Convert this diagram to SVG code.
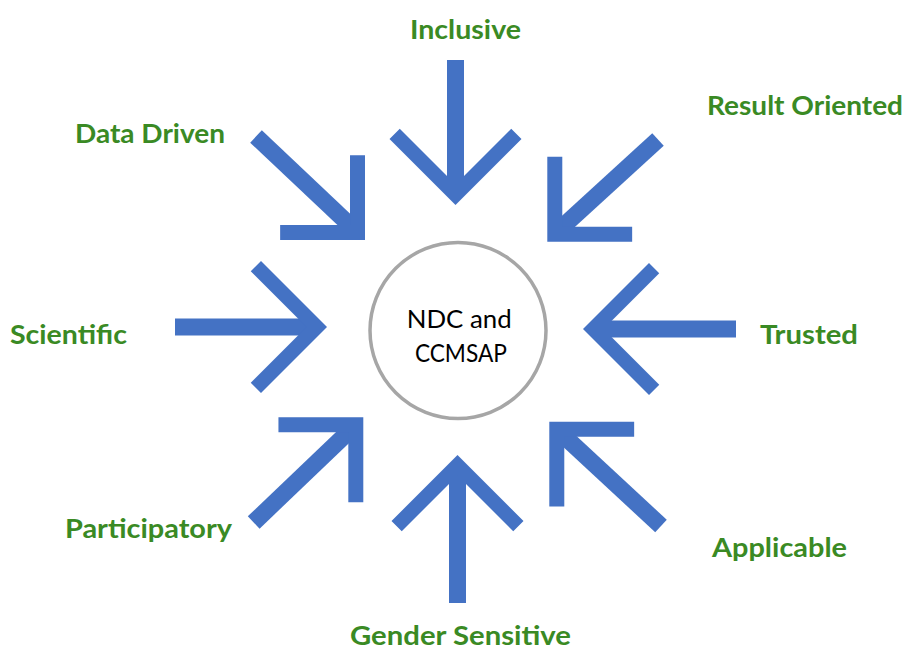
<svg xmlns="http://www.w3.org/2000/svg" width="911" height="650" viewBox="0 0 911 650">
<style>
.shaft{stroke:#4472C4;stroke-width:17;stroke-linecap:butt;fill:none}
.head{fill:#4472C4}
.lbl{font-family:Lato,"Open Sans","Liberation Sans",sans-serif;font-weight:bold;font-size:27px;fill:#3A8A24}
.ctr{font-family:Lato,"Open Sans","Liberation Sans",sans-serif;font-size:25px;fill:#000;text-anchor:middle}
</style>
<defs>
<polygon id="head" points="0,0 -66,-66 -76.25,-55.75 -20.5,0 -76.25,55.75 -66,66"/>
<polygon id="head-d" points="0,0 -60,-60 -70.6,-49.4 -21.2,0 -70.6,49.4 -60,60"/>
</defs>
<rect width="911" height="650" fill="#fff"/>
<g id="connectors">
  <g id="arrow-inclusive"><line class="shaft" x1="455.5" y1="60" x2="455.5" y2="190"/><use href="#head" class="head" transform="translate(455.5,205) rotate(90)"/></g>
  <g id="arrow-gender"><line class="shaft" x1="457.5" y1="603" x2="457.5" y2="470"/><use href="#head" class="head" transform="translate(457.5,455) rotate(-90)"/></g>
  <g id="arrow-scientific"><line class="shaft" x1="175" y1="327" x2="312" y2="327"/><use href="#head" class="head" transform="translate(327,327)"/></g>
  <g id="arrow-trusted"><line class="shaft" x1="736" y1="329" x2="598" y2="329"/><use href="#head" class="head" transform="translate(583,329) rotate(180)"/></g>
  <g id="arrow-datadriven"><line class="shaft" x1="256" y1="136.5" x2="354.4" y2="229.4"/><use href="#head-d" class="head" transform="translate(365,240) rotate(45)"/></g>
  <g id="arrow-result"><line class="shaft" x1="658" y1="139.5" x2="557.9" y2="231.1"/><use href="#head-d" class="head" transform="translate(547.3,241.7) rotate(135)"/></g>
  <g id="arrow-applicable"><line class="shaft" x1="661" y1="526" x2="559.9" y2="432.3"/><use href="#head-d" class="head" transform="translate(549.3,421.7) rotate(225)"/></g>
  <g id="arrow-participatory"><line class="shaft" x1="253.7" y1="522.5" x2="352.7" y2="427.9"/><use href="#head-d" class="head" transform="translate(363.3,417.3) rotate(-45)"/></g>
</g>
<g id="node-center">
  <circle cx="458" cy="330.5" r="88" fill="#fff" stroke="#A6A6A6" stroke-width="3.5"/>
  <text class="ctr" x="459.2" y="328.3" textLength="105" lengthAdjust="spacingAndGlyphs">NDC and</text>
  <text class="ctr" x="460.9" y="361.7" textLength="92" lengthAdjust="spacingAndGlyphs">CCMSAP</text>
</g>
<g id="node-inclusive"><text class="lbl" x="410" y="39" textLength="111" lengthAdjust="spacingAndGlyphs">Inclusive</text></g>
<g id="node-result"><text class="lbl" x="707" y="115" textLength="196" lengthAdjust="spacingAndGlyphs">Result Oriented</text></g>
<g id="node-datadriven"><text class="lbl" x="75" y="143" textLength="150" lengthAdjust="spacingAndGlyphs">Data Driven</text></g>
<g id="node-scientific"><text class="lbl" x="10" y="344" textLength="117" lengthAdjust="spacingAndGlyphs">Scientific</text></g>
<g id="node-trusted"><text class="lbl" x="760" y="344" textLength="98" lengthAdjust="spacingAndGlyphs">Trusted</text></g>
<g id="node-participatory"><text class="lbl" x="65" y="538" textLength="167" lengthAdjust="spacingAndGlyphs">Participatory</text></g>
<g id="node-applicable"><text class="lbl" x="712" y="557" textLength="135" lengthAdjust="spacingAndGlyphs">Applicable</text></g>
<g id="node-gender"><text class="lbl" x="350" y="645" textLength="221" lengthAdjust="spacingAndGlyphs">Gender Sensitive</text></g>
</svg>
